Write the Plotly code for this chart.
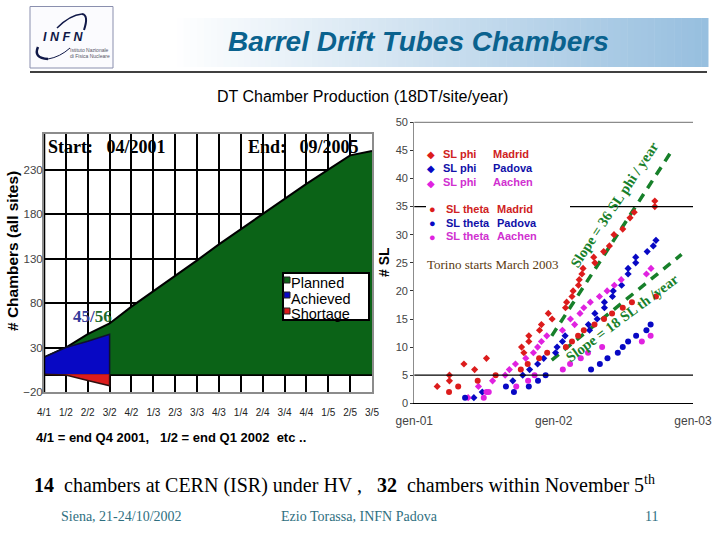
import plotly.graph_objects as go

W = 720
H = 540

GREEN = '#0b6317'
BLUE = '#0808c4'
RED = '#dc1c1c'
MAGENTA = '#e022e0'
SLOPE_GREEN = '#17802a'
FOOT_COLOUR = '#2f6f7f'

# left chart: chambers per quarter
quarters = ['4/1', '1/2', '2/2', '3/2', '4/2', '1/3', '2/3', '3/3',
            '4/3', '1/4', '2/4', '3/4', '4/4', '1/5', '2/5', '3/5']
planned = [19, 30, 45, 57, 76, 93, 111, 128, 146, 163, 181, 198, 214, 230, 246, 251]
achieved = [19, 30, 37, 45, 0]
achieved_q = ['4/1', '1/2', '2/2', '3/2', '3/2']
shortage = [0, -1, -7, -13, 0]
shortage_q = ['4/1', '1/2', '2/2', '3/2', '3/2']

# right chart: superlayers vs date
madrid_phi_x = ['2001-03-02', '2001-04-03', '2001-04-03', '2001-05-11', '2001-06-08', '2001-07-09',
                '2001-10-09', '2001-10-15', '2001-10-28', '2001-10-28', '2001-11-25', '2001-11-30',
                '2001-12-18', '2001-12-28', '2002-02-01', '2002-02-04', '2002-02-18', '2002-02-21',
                '2002-03-07', '2002-03-09', '2002-03-16', '2002-03-19', '2002-04-19', '2002-04-16',
                '2002-05-12', '2002-05-27', '2002-06-08', '2002-07-01', '2002-07-20', '2002-07-31',
                '2002-09-23', '2002-09-23']
madrid_phi_y = [3, 4, 5, 7, 6, 8, 10, 9, 12, 11, 13, 14, 16, 15, 17, 18, 19, 20,
                21, 22, 23, 24, 25, 26, 27, 28, 30, 31, 33, 34, 35, 36]
padova_phi_x = ['2001-06-06', '2001-06-28', '2001-09-16', '2001-10-12', '2001-10-30', '2001-11-20',
                '2001-12-06', '2002-01-06', '2002-01-10', '2002-01-24', '2002-01-31', '2002-04-05',
                '2002-04-02', '2002-04-25', '2002-04-19', '2002-05-14', '2002-05-14', '2002-06-04',
                '2002-06-06', '2002-06-28', '2002-07-15', '2002-07-15', '2002-08-04', '2002-08-04',
                '2002-09-03', '2002-09-19', '2002-09-26']
padova_phi_y = [1, 2, 4, 5, 6, 7, 8, 9, 10, 11, 12, 13, 14, 15, 16, 17, 18, 19, 20,
                21, 23, 24, 25, 26, 27, 28, 29]
aachen_phi_x = ['2001-05-22', '2001-06-18', '2001-07-25', '2001-08-27', '2001-09-07', '2001-09-23',
                '2001-10-20', '2001-11-09', '2001-11-20', '2001-11-30', '2001-12-14', '2002-01-24',
                '2002-02-25', '2002-02-14', '2002-03-11', '2002-03-21', '2002-04-07', '2002-05-01',
                '2002-05-21', '2002-06-09', '2002-06-27', '2002-09-01', '2002-09-13']
aachen_phi_y = [1, 3, 4, 5, 6, 7, 8, 9, 10, 11, 12, 13, 14, 15, 16, 17, 18, 19, 20, 21, 22, 23, 24]
madrid_theta_x = ['2001-04-02', '2001-04-26', '2001-06-16', '2001-08-02', '2001-10-07', '2001-10-25',
                  '2001-11-24', '2001-12-15', '2002-02-02', '2002-02-18', '2002-03-06', '2002-03-21',
                  '2002-04-18', '2002-05-13', '2002-06-03', '2002-07-01', '2002-07-25', '2002-09-26']
madrid_theta_y = [2, 3, 4, 5, 6, 7, 8, 9, 10, 11, 12, 13, 14, 15, 16, 17, 18, 19]
padova_theta_x = ['2001-05-14', '2001-08-29', '2001-09-19', '2001-10-28', '2001-11-21', '2001-12-11',
                  '2002-04-09', '2002-05-02', '2002-05-22', '2002-06-18', '2002-07-01', '2002-07-15',
                  '2002-08-05', '2002-09-01', '2002-09-12']
padova_theta_y = [1, 3, 2, 3, 4, 5, 6, 7, 8, 9, 10, 11, 12, 13, 14]
aachen_theta_x = ['2001-07-02', '2001-07-09', '2001-07-15', '2001-09-25', '2001-10-26', '2001-11-12',
                  '2002-01-25', '2002-02-13', '2002-03-13', '2002-04-01', '2002-05-08', '2002-08-20',
                  '2002-09-12']
aachen_theta_y = [1, 2, 2, 3, 4, 5, 6, 7, 8, 9, 10, 11, 12]

slope36_x = ['2001-12-27', '2002-11-09']
slope36_y = [12, 45.2]
slope18_x = ['2001-12-27', '2002-12-02']
slope18_y = [7.7, 26.5]

sl_ticks = [0, 5, 10, 15, 20, 25, 30, 35, 40, 45, 50]
sl_gridlines = [5, 35]
date_ticks = ['2001-01-01', '2002-01-01', '2003-01-01']
date_labels = ['gen-01', 'gen-02', 'gen-03']


def px(x):
    return x / W


def py(y):
    return 1 - y / H


def label(text, x, y, size=12, colour='black', font='Liberation Sans', anchor='left', angle=0):
    """Return an annotation placed by picture position."""
    return dict(text=text, x=px(x), y=py(y), xref='paper', yref='paper', showarrow=False,
                xanchor=anchor, yanchor='middle', textangle=angle, borderpad=0, borderwidth=0,
                font=dict(size=size, color=colour, family=font))


def box(x0, y0, x1, y1, fill=None, line=None, width=1):
    return dict(type='rect', xref='paper', yref='paper', x0=px(x0), x1=px(x1), y0=py(y0), y1=py(y1),
                fillcolor=fill, line=dict(color=line, width=width if line else 0))


def rule(x0, y0, x1, y1, colour='black', width=1):
    return dict(type='line', xref='paper', yref='paper', x0=px(x0), x1=px(x1), y0=py(y0), y1=py(y1),
                line=dict(color=colour, width=width))


def arc(x0, y0, cx, cy, x1, y1, width):
    path = f'M {px(x0)} {py(y0)} Q {px(cx)} {py(cy)} {px(x1)} {py(y1)}'
    return dict(type='path', xref='paper', yref='paper', path=path,
                line=dict(color='#101848', width=width))


fig = go.Figure()

# left chart
fig.add_trace(go.Scatter(x=quarters, y=planned, mode='lines', fill='tozeroy', fillcolor=GREEN,
                         line=dict(color='black', width=2), xaxis='x', yaxis='y'))
fig.add_trace(go.Scatter(x=achieved_q, y=achieved, mode='lines', fill='tozeroy', fillcolor=BLUE,
                         line=dict(color='#101030', width=1.5), xaxis='x', yaxis='y'))
fig.add_trace(go.Scatter(x=shortage_q, y=shortage, mode='lines', fill='tozeroy', fillcolor=RED,
                         line=dict(color='#301010', width=1.5), xaxis='x', yaxis='y'))

# right chart
fig.add_trace(go.Scatter(x=slope36_x, y=slope36_y, mode='lines', xaxis='x2', yaxis='y2',
                         line=dict(color=SLOPE_GREEN, width=3.5, dash='9px,7px')))
fig.add_trace(go.Scatter(x=slope18_x, y=slope18_y, mode='lines', xaxis='x2', yaxis='y2',
                         line=dict(color=SLOPE_GREEN, width=3.5, dash='9px,7px')))
series = [(madrid_phi_x, madrid_phi_y, RED, 'diamond', 5.5),
          (padova_phi_x, padova_phi_y, BLUE, 'diamond', 5.5),
          (aachen_phi_x, aachen_phi_y, MAGENTA, 'diamond', 5.5),
          (madrid_theta_x, madrid_theta_y, RED, 'circle', 6),
          (padova_theta_x, padova_theta_y, BLUE, 'circle', 6),
          (aachen_theta_x, aachen_theta_y, MAGENTA, 'circle', 6)]
for xs, ys, colour, symbol, size in series:
    fig.add_trace(go.Scatter(x=xs, y=ys, mode='markers', xaxis='x2', yaxis='y2',
                             marker=dict(color=colour, symbol=symbol, size=size)))

shapes = []

# title band, fades from white to light blue
steps = 80
for i in range(steps):
    t = i / (steps - 1)
    col = f'rgb({255 - 104 * t:.0f},{255 - 64 * t:.0f},{255 - 32 * t:.0f})'
    x0 = 170 + (708 - 170) * i / steps
    x1 = 170 + (708 - 170) * (i + 1) / steps + 0.5
    shapes.append(box(x0, 18, x1, 67, fill=col))
shapes.append(rule(30, 72, 707, 72, width=1.5))

# logo
shapes.append(box(30, 6.5, 113, 68, fill='#fbfbfe', line='#8a8fae', width=1))
shapes.append(arc(57, 28, 70, 15, 82, 14, 1.5))
shapes.append(arc(82, 14, 89, 15, 84, 30, 2))
shapes.append(arc(38, 47, 33, 58, 48, 59, 2.5))
shapes.append(arc(48, 59, 60, 57, 70, 48, 1))

# left chart frame pieces
shapes.append(dict(type='line', xref='x', yref='y domain', x0=0, x1=0, y0=0, y1=1,
                   line=dict(color='black', width=2.5)))
shapes.append(box(283, 273, 369, 320, fill='white', line='black', width=2))
swatches = [(280, GREEN), (295, BLUE), (311, RED)]
for y, colour in swatches:
    shapes.append(box(284, y - 3, 290, y + 3, fill=colour, line='#222222', width=1))

# right chart grid and top line
for level in sl_gridlines:
    shapes.append(dict(type='line', xref='x2 domain', yref='y2', x0=0, x1=1, y0=level, y1=level,
                       line=dict(color='black', width=1.2)))
shapes.append(dict(type='line', xref='x2 domain', yref='y2 domain', x0=0, x1=1, y0=1, y1=1,
                   line=dict(color='#8c8c8c', width=1.2)))
shapes.append(box(426, 201, 570, 212, fill='white'))

THIN = 'Liberation Sans'
SERIF = 'Liberation Serif'
annotations = [
    label('<b><i>Barrel Drift Tubes Chambers</i></b>', 418, 42, size=28, colour='#0a628e', anchor='center'),
    label('DT Chamber Production (18DT/site/year)', 217, 97, size=16),
    label('<b><i>I N F N</i></b>', 43, 37, size=12.5, colour='#101848'),
    label('Istituto Nazionale', 70, 50, size=5, colour='#555566'),
    label('di Fisica Nucleare', 70, 56, size=5, colour='#555566'),
    label('<b>Start:   04/2001</b>', 48, 147, size=18, font=SERIF),
    label('<b>End:   09/2005</b>', 248, 147, size=18, font=SERIF),
    label('<b><span style="color:#34399a">45</span>/<span style="color:#1d6a2c">56</span></b>',
          73, 316, size=17, colour='#34399a', font=SERIF),
    label('Planned', 291, 283, size=14.5),
    label('Achieved', 291, 299, size=14.5),
    label('Shortage', 291, 314, size=14.5),
    label('<b># Chambers (all sites)</b>', 12, 251, size=15.5, anchor='center', angle=-90),
    label('<b># SL</b>', 384, 262, size=14, anchor='center', angle=-90),
    label('◆', 431, 155, size=10, colour=RED, anchor='center'),
    label('◆', 431, 169, size=10, colour=BLUE, anchor='center'),
    label('◆', 431, 183, size=10, colour=MAGENTA, anchor='center'),
    label('<b>SL phi</b>', 443, 154, size=11, colour='#cf2222'),
    label('<b>SL phi</b>', 443, 168, size=11, colour='#1010a8'),
    label('<b>SL phi</b>', 443, 182, size=11, colour='#d030d0'),
    label('<b>Madrid</b>', 493, 154, size=11, colour='#cf2222'),
    label('<b>Padova</b>', 493, 168, size=11, colour='#1010a8'),
    label('<b>Aachen</b>', 493, 182, size=11, colour='#d030d0'),
    label('●', 432, 209, size=11, colour=RED, anchor='center'),
    label('●', 432, 223, size=11, colour=BLUE, anchor='center'),
    label('●', 432, 237, size=11, colour=MAGENTA, anchor='center'),
    label('<b>SL theta</b>', 446, 209, size=11, colour='#cf2222'),
    label('<b>SL theta</b>', 446, 223, size=11, colour='#1010a8'),
    label('<b>SL theta</b>', 446, 236, size=11, colour='#d030d0'),
    label('<b>Madrid</b>', 497, 209, size=11, colour='#cf2222'),
    label('<b>Padova</b>', 497, 223, size=11, colour='#1010a8'),
    label('<b>Aachen</b>', 497, 236, size=11, colour='#d030d0'),
    label('Torino starts March 2003', 427, 264, size=13, colour='#5a3a10', font=SERIF),
    label('<b>Slope = 36 SL phi / year</b>', 614, 205, size=14.5, colour=SLOPE_GREEN,
          font=SERIF, anchor='center', angle=-56.5),
    label('<b>Slope = 18 SL th /year</b>', 622, 318, size=14.5, colour=SLOPE_GREEN,
          font=SERIF, anchor='center', angle=-36.7),
    label('<b>4/1 = end Q4 2001,   1/2 = end Q1 2002  etc ..</b>', 36, 437, size=13),
    label('<b>14</b>  chambers at CERN (ISR) under HV ,   <b>32</b>  chambers within November 5<sup>th</sup>',
          34, 484, size=20, font=SERIF),
    label('Siena, 21-24/10/2002', 61, 516, size=14, colour=FOOT_COLOUR, font=SERIF),
    label('Ezio Torassa, INFN Padova', 281, 516, size=14, colour=FOOT_COLOUR, font=SERIF),
    label('11', 645, 516, size=14, colour=FOOT_COLOUR, font=SERIF),
]

fig.update_layout(
    width=W, height=H, margin=dict(l=0, r=0, t=0, b=0, autoexpand=False), showlegend=False,
    paper_bgcolor='white', plot_bgcolor='white',
    shapes=shapes, annotations=annotations,
    xaxis=dict(domain=[px(44), px(372)], type='category', categoryorder='array', categoryarray=quarters,
               range=[0, 15], showgrid=True, gridcolor='black', gridwidth=2, zeroline=False,
               showline=True, linecolor='#8c8c8c', linewidth=2, mirror=True,
               anchor='y', ticks='', ticklabelstandoff=10, tickangle=0,
               tickfont=dict(size=10, color='#222222', family=THIN)),
    yaxis=dict(domain=[py(392), py(134)], range=[-20, 270], tick0=-20, dtick=50,
               showgrid=True, gridcolor='black', gridwidth=2,
               zeroline=True, zerolinecolor='black', zerolinewidth=3,
               showline=True, linecolor='#8c8c8c', linewidth=2, mirror=True,
               anchor='x', ticks='', ticklabelstandoff=-3,
               tickfont=dict(size=11.5, color='#444444', family=THIN)),
    xaxis2=dict(domain=[px(414.3), px(693)], type='date', range=['2001-01-01', '2003-01-01'],
                tickvals=date_ticks, ticktext=date_labels, showgrid=False, zeroline=False,
                showline=True, linecolor='black', linewidth=1.2, anchor='y2', ticks='',
                ticklabelstandoff=6, tickfont=dict(size=12, color='#444444', family=THIN)),
    yaxis2=dict(domain=[py(403.3), py(122.3)], range=[0, 50], tickvals=sl_ticks, showgrid=False,
                zeroline=False, showline=True, linecolor='#8c8c8c', linewidth=1.2, anchor='x2',
                ticks='outside', ticklen=3, tickcolor='#333333',
                tickfont=dict(size=11, color='#444444', family=THIN)),
)

fig.write_html("out.html", config=dict(displayModeBar=False),
               post_script="document.body.style.margin='0';document.body.style.overflow='hidden';")
